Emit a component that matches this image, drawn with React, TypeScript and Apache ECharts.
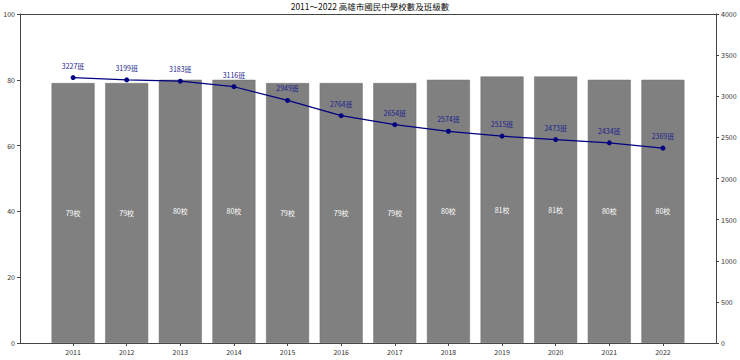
import React, { useEffect, useRef } from "react";
import * as echarts from "echarts";

const years = ["2011", "2012", "2013", "2014", "2015", "2016", "2017", "2018", "2019", "2020", "2021", "2022"];
const schools = [79, 79, 80, 80, 79, 79, 79, 80, 81, 81, 80, 80];
const classes = [3227, 3199, 3183, 3116, 2949, 2764, 2654, 2574, 2515, 2473, 2434, 2369];
const titleText = "2011～2022 高雄市國民中學校數及班級數";

const FONT = "'Noto Sans CJK TC', 'Noto Sans', sans-serif";

export default function App() {
  const ref = useRef<HTMLDivElement>(null);
  useEffect(() => {
    if (!ref.current) return;
    const chart = echarts.init(ref.current, undefined, { renderer: "svg" });
    const idx = years.map((_, i) => i);
    const axisLineStyle = { color: "#444", width: 1 };
    const tickLabel = { fontSize: 7, color: "#333", margin: 5 };
    chart.setOption({
      animation: false,
      textStyle: { fontFamily: FONT },
      title: {
        text: titleText,
        left: "center",
        top: 2,
        padding: 0,
        textStyle: { fontSize: 8.5, fontWeight: "normal", color: "#111", fontFamily: FONT },
      },
      grid: { left: 20, right: 24, top: 14, bottom: 17, containLabel: false },
      xAxis: [
        {
          type: "value",
          min: -0.99,
          max: 11.99,
          position: "bottom",
          axisLine: { show: true, onZero: false, lineStyle: axisLineStyle },
          axisTick: { show: true, length: 3, customValues: idx, lineStyle: axisLineStyle },
          axisLabel: {
            ...tickLabel,
            customValues: idx,
            formatter: (v: number) => years[Math.round(v)] ?? "",
          },
          splitLine: { show: false },
        },
        {
          type: "value",
          min: -0.99,
          max: 11.99,
          position: "top",
          axisLine: { show: true, onZero: false, lineStyle: axisLineStyle },
          axisTick: { show: false },
          axisLabel: { show: false },
          splitLine: { show: false },
        },
      ],
      yAxis: [
        {
          type: "value",
          min: 0,
          max: 100,
          interval: 20,
          position: "left",
          axisLine: { show: true, onZero: false, lineStyle: axisLineStyle },
          axisTick: { show: true, length: 3, lineStyle: axisLineStyle },
          axisLabel: { ...tickLabel },
          splitLine: { show: false },
        },
        {
          type: "value",
          min: 0,
          max: 4000,
          interval: 500,
          position: "right",
          axisLine: { show: true, onZero: false, lineStyle: axisLineStyle },
          axisTick: { show: true, length: 3, lineStyle: axisLineStyle },
          axisLabel: { ...tickLabel, formatter: (v: number) => String(v) },
          splitLine: { show: false },
        },
      ],
      series: [
        {
          type: "bar",
          xAxisIndex: 0,
          yAxisIndex: 0,
          data: schools.map((v, i) => [i, v]),
          barWidth: 43,
          itemStyle: { color: "#808080", borderColor: "#6e6e6e", borderWidth: 0.5 },
          label: {
            show: true,
            position: "inside",
            formatter: (p: any) => `${p.value[1]}校`,
            color: "#fff",
            fontSize: 7,
          },
        },
        {
          type: "line",
          xAxisIndex: 0,
          yAxisIndex: 1,
          data: classes.map((v, i) => [i, v]),
          symbol: "circle",
          symbolSize: 5,
          lineStyle: { color: "#000080", width: 1.2 },
          itemStyle: { color: "#000080" },
          label: {
            show: true,
            position: "top",
            distance: 6,
            formatter: (p: any) => `${p.value[1]}班`,
            color: "#1c1c8c",
            fontSize: 7,
          },
          z: 5,
        },
      ],
    });
    return () => chart.dispose();
  }, []);
  return (
    <div
      ref={ref}
      style={{ position: "fixed", left: 0, top: 0, width: 740, height: 360, background: "#fff" }}
    />
  );
}
